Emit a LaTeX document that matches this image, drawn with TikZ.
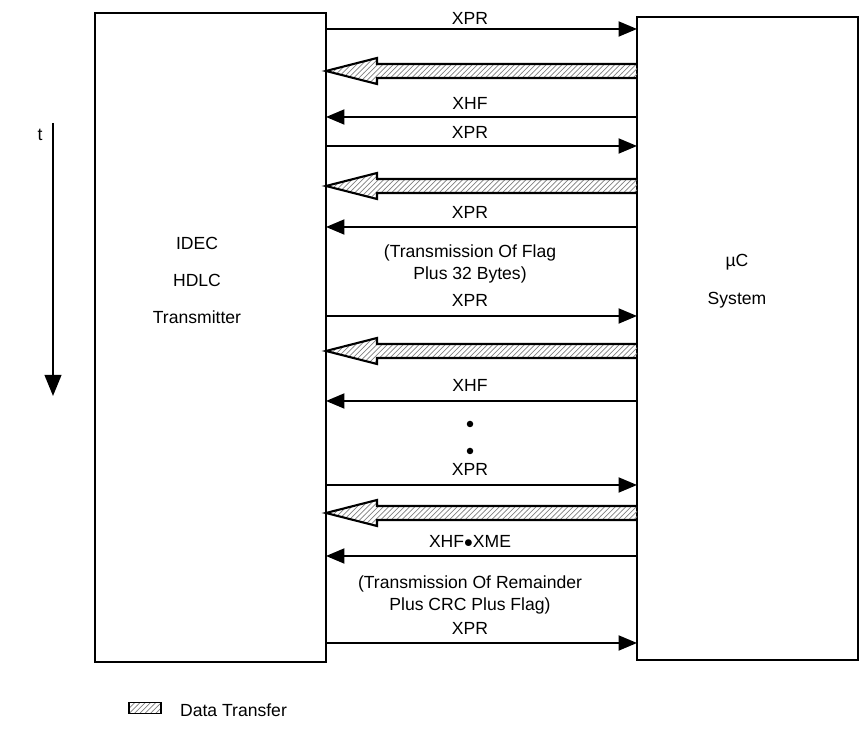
\documentclass[tikz,border=0pt]{standalone}
\usepackage{fontspec}
\setmainfont{Liberation Sans}
\usepackage{tikz}
\usetikzlibrary{arrows.meta,patterns}

\tikzset{
  unitbox/.style={draw, line width=1.2pt, inner sep=0pt, outer sep=0pt},
  lbl/.style={font=\fontsize{10}{12}\selectfont, inner sep=1pt, align=center},
  msg/.style={line width=1.2pt, -{Triangle[length=10.5pt,width=8.5pt]}},
  data/.style={line width=1.2pt, pattern=north east lines, pattern color=black!50, line join=miter},
  dotmark/.style={circle, fill, inner sep=0pt, minimum size=0.13cm}
}

\begin{document}
\begin{tikzpicture}[x=0.02cm, y=-0.02cm]
  \useasboundingbox (0,0) rectangle (860,732);

  % Units
  \node[unitbox, minimum width=4.62cm, minimum height=12.98cm] (tx) at (210.5,337.5) {};
  \node[unitbox, minimum width=4.42cm, minimum height=12.86cm] (uc) at (747.5,338.5) {};

  \node[lbl] (tx1) at (197,243) {IDEC};
  \node[lbl] (tx2) at (197,280) {HDLC};
  \node[lbl] (tx3) at (197,317) {Transmitter};
  \node[lbl] (uc1) at (737,262) {\textmu C};
  \node[lbl] (uc2) at (737,300) {System};

  % Time axis
  \node[lbl] (t) at (40,135) {t};
  \coordinate (t0) at (53,123);
  \coordinate (t1) at (53,396);
  \draw[msg, -{Triangle[length=12pt,width=9.5pt]}] (t0) -- (t1);

  % Signals
  \draw[msg] (tx.east |- 0,29) -- (uc.west |- 0,29);
  \node[lbl] (m1) at (470,18) {XPR};
  \draw[msg] (uc.west |- 0,117) -- (tx.east |- 0,117);
  \node[lbl] (m2) at (470,103) {XHF};
  \draw[msg] (tx.east |- 0,146) -- (uc.west |- 0,146);
  \node[lbl] (m3) at (470,132) {XPR};
  \draw[msg] (uc.west |- 0,227) -- (tx.east |- 0,227);
  \node[lbl] (m4) at (470,212) {XPR};
  \node[lbl] (n1) at (470,264) {(Transmission Of Flag\\Plus 32 Bytes)};
  \draw[msg] (tx.east |- 0,316) -- (uc.west |- 0,316);
  \node[lbl] (m5) at (470,300) {XPR};
  \draw[msg] (uc.west |- 0,401) -- (tx.east |- 0,401);
  \node[lbl] (m6) at (470,385) {XHF};
  \node[dotmark] (d1) at (470,424) {};
  \node[dotmark] (d2) at (470,451) {};
  \draw[msg] (tx.east |- 0,485) -- (uc.west |- 0,485);
  \node[lbl] (m7) at (470,469) {XPR};
  \draw[msg] (uc.west |- 0,556) -- (tx.east |- 0,556);
  \node[lbl] (m8) at (470,541) {XHF$\bullet$XME};
  \node[lbl] (n2) at (470,595) {(Transmission Of Remainder\\Plus CRC Plus Flag)};
  \draw[msg] (tx.east |- 0,643) -- (uc.west |- 0,643);
  \node[lbl] (m9) at (470,628) {XPR};

  % Data transfers
  \foreach \y in {71,186,351,513}
    \draw[data] (uc.west |- 0,\y-7) -- (377,\y-7) -- (377,\y-13) -- (tx.east |- 0,\y)
      -- (377,\y+13) -- (377,\y+7) -- (uc.west |- 0,\y+7);

  % Legend
  \node[draw, line width=1pt, pattern=north east lines, pattern color=black!50, minimum width=0.64cm, minimum height=0.22cm, inner sep=0pt] (key) at (145,708) {};
  \node[lbl, anchor=west] (keytxt) at (178,710) {Data Transfer};
\end{tikzpicture}
\end{document}
